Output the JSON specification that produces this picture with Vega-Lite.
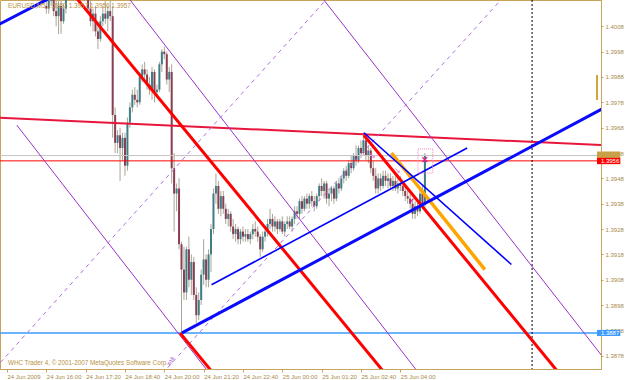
{
  "$schema": "https://vega.github.io/schema/vega-lite/v6.json",
  "width": 601,
  "height": 369,
  "autosize": {"type": "none"},
  "padding": {"left": 0, "top": 0, "right": 24, "bottom": 11},
  "background": "white",
  "config": {
    "view": {"stroke": "#c8a45a", "strokeWidth": 1},
    "font": "'Liberation Sans Narrow', 'Liberation Sans', sans-serif",
    "axis": {"grid": false}
  },
  "resolve": {"axis": {"x": "independent", "y": "independent"}},
  "datasets": {
    "one": [{"k": 1}],
    "candles": [
      {"i":16,"o":1.4016,"h":1.4022,"l":1.4013,"c":1.4015},
      {"i":17,"o":1.4015,"h":1.4022,"l":1.4013,"c":1.4018},
      {"i":18,"o":1.4018,"h":1.4025,"l":1.4016,"c":1.4022},
      {"i":19,"o":1.4022,"h":1.4026,"l":1.4012,"c":1.4014},
      {"i":20,"o":1.4014,"h":1.4019,"l":1.4008,"c":1.4012},
      {"i":21,"o":1.4012,"h":1.4018,"l":1.4005,"c":1.4016},
      {"i":22,"o":1.4016,"h":1.4020,"l":1.4005,"c":1.4010},
      {"i":23,"o":1.4010,"h":1.4017,"l":1.4009,"c":1.4015},
      {"i":24,"o":1.4015,"h":1.4022,"l":1.4013,"c":1.4020},
      {"i":25,"o":1.4020,"h":1.4028,"l":1.4019,"c":1.4026},
      {"i":26,"o":1.4026,"h":1.4032,"l":1.4024,"c":1.4030},
      {"i":27,"o":1.4030,"h":1.4036,"l":1.4027,"c":1.4033},
      {"i":28,"o":1.4033,"h":1.4036,"l":1.4026,"c":1.4028},
      {"i":29,"o":1.4028,"h":1.4032,"l":1.4024,"c":1.4030},
      {"i":30,"o":1.4030,"h":1.4034,"l":1.4025,"c":1.4027},
      {"i":31,"o":1.4027,"h":1.4030,"l":1.4021,"c":1.4024},
      {"i":32,"o":1.4024,"h":1.4028,"l":1.4019,"c":1.4021},
      {"i":33,"o":1.4021,"h":1.4024,"l":1.4013,"c":1.4015},
      {"i":34,"o":1.4015,"h":1.4019,"l":1.4008,"c":1.4010},
      {"i":35,"o":1.4010,"h":1.4015,"l":1.4006,"c":1.4013},
      {"i":36,"o":1.4013,"h":1.4016,"l":1.4004,"c":1.4006},
      {"i":37,"o":1.4006,"h":1.4010,"l":1.3999,"c":1.4003},
      {"i":38,"o":1.4003,"h":1.4012,"l":1.4002,"c":1.4010},
      {"i":39,"o":1.4010,"h":1.4016,"l":1.4008,"c":1.4013},
      {"i":40,"o":1.4013,"h":1.4018,"l":1.4009,"c":1.4011},
      {"i":41,"o":1.4011,"h":1.4016,"l":1.4006,"c":1.4014},
      {"i":42,"o":1.4014,"h":1.4018,"l":1.4010,"c":1.4012},
      {"i":43,"o":1.4012,"h":1.4016,"l":1.3964,"c":1.3973},
      {"i":44,"o":1.3973,"h":1.3976,"l":1.3958,"c":1.3962},
      {"i":45,"o":1.3962,"h":1.3967,"l":1.3958,"c":1.3965},
      {"i":46,"o":1.3965,"h":1.3968,"l":1.3947,"c":1.3960},
      {"i":47,"o":1.3960,"h":1.3966,"l":1.3955,"c":1.3964},
      {"i":48,"o":1.3964,"h":1.3966,"l":1.3949,"c":1.3953},
      {"i":49,"o":1.3953,"h":1.3972,"l":1.3951,"c":1.3970},
      {"i":50,"o":1.3970,"h":1.3978,"l":1.3968,"c":1.3976},
      {"i":51,"o":1.3976,"h":1.3983,"l":1.3974,"c":1.3981},
      {"i":52,"o":1.3981,"h":1.3984,"l":1.3977,"c":1.3979},
      {"i":53,"o":1.3979,"h":1.3983,"l":1.3976,"c":1.3978},
      {"i":54,"o":1.3978,"h":1.3990,"l":1.3977,"c":1.3988},
      {"i":55,"o":1.3988,"h":1.3993,"l":1.3986,"c":1.3991},
      {"i":56,"o":1.3991,"h":1.3994,"l":1.3987,"c":1.3989},
      {"i":57,"o":1.3989,"h":1.3991,"l":1.3983,"c":1.3985},
      {"i":58,"o":1.3985,"h":1.3988,"l":1.3981,"c":1.3983},
      {"i":59,"o":1.3983,"h":1.3992,"l":1.3979,"c":1.3990},
      {"i":60,"o":1.3990,"h":1.3991,"l":1.3978,"c":1.3982},
      {"i":61,"o":1.3982,"h":1.3985,"l":1.3980,"c":1.3983},
      {"i":62,"o":1.3983,"h":1.3994,"l":1.3982,"c":1.3993},
      {"i":63,"o":1.3993,"h":1.3999,"l":1.3990,"c":1.3998},
      {"i":64,"o":1.3998,"h":1.4000,"l":1.3995,"c":1.3997},
      {"i":65,"o":1.3997,"h":1.3998,"l":1.3985,"c":1.3987},
      {"i":66,"o":1.3987,"h":1.3992,"l":1.3982,"c":1.3990},
      {"i":67,"o":1.3990,"h":1.3993,"l":1.3946,"c":1.3952},
      {"i":68,"o":1.3952,"h":1.3958,"l":1.3927,"c":1.3942},
      {"i":69,"o":1.3942,"h":1.3946,"l":1.3935,"c":1.3944},
      {"i":70,"o":1.3944,"h":1.3948,"l":1.3920,"c":1.3922},
      {"i":71,"o":1.3922,"h":1.3923,"l":1.3887,"c":1.3912},
      {"i":72,"o":1.3912,"h":1.3921,"l":1.3900,"c":1.3903},
      {"i":73,"o":1.3903,"h":1.3921,"l":1.3900,"c":1.3920},
      {"i":74,"o":1.3920,"h":1.3925,"l":1.3905,"c":1.3908},
      {"i":75,"o":1.3908,"h":1.3918,"l":1.3902,"c":1.3915},
      {"i":76,"o":1.3915,"h":1.3917,"l":1.3900,"c":1.3902},
      {"i":77,"o":1.3902,"h":1.3905,"l":1.3891,"c":1.3894},
      {"i":78,"o":1.3894,"h":1.3903,"l":1.3892,"c":1.3900},
      {"i":79,"o":1.3900,"h":1.3912,"l":1.3898,"c":1.3910},
      {"i":80,"o":1.3910,"h":1.3924,"l":1.3906,"c":1.3916},
      {"i":81,"o":1.3916,"h":1.3918,"l":1.3905,"c":1.3908},
      {"i":82,"o":1.3908,"h":1.3920,"l":1.3905,"c":1.3918},
      {"i":83,"o":1.3918,"h":1.3930,"l":1.3911,"c":1.3928},
      {"i":84,"o":1.3928,"h":1.3944,"l":1.3926,"c":1.3942},
      {"i":85,"o":1.3942,"h":1.3950,"l":1.3938,"c":1.3945},
      {"i":86,"o":1.3945,"h":1.3947,"l":1.3934,"c":1.3936},
      {"i":87,"o":1.3936,"h":1.3943,"l":1.3933,"c":1.3941},
      {"i":88,"o":1.3941,"h":1.3943,"l":1.3934,"c":1.3936},
      {"i":89,"o":1.3936,"h":1.3938,"l":1.3930,"c":1.3932},
      {"i":90,"o":1.3932,"h":1.3936,"l":1.3929,"c":1.3934},
      {"i":91,"o":1.3934,"h":1.3935,"l":1.3927,"c":1.3929},
      {"i":92,"o":1.3929,"h":1.3932,"l":1.3924,"c":1.3926},
      {"i":93,"o":1.3926,"h":1.3930,"l":1.3923,"c":1.3928},
      {"i":94,"o":1.3928,"h":1.3929,"l":1.3922,"c":1.3924},
      {"i":95,"o":1.3924,"h":1.3928,"l":1.3922,"c":1.3927},
      {"i":96,"o":1.3927,"h":1.3929,"l":1.3923,"c":1.3925},
      {"i":97,"o":1.3925,"h":1.3928,"l":1.3923,"c":1.3926},
      {"i":98,"o":1.3926,"h":1.3928,"l":1.3923,"c":1.3924},
      {"i":99,"o":1.3924,"h":1.3927,"l":1.3922,"c":1.3926},
      {"i":100,"o":1.3926,"h":1.3930,"l":1.3924,"c":1.3928},
      {"i":101,"o":1.3928,"h":1.3931,"l":1.3925,"c":1.3927},
      {"i":102,"o":1.3927,"h":1.3929,"l":1.3923,"c":1.3925},
      {"i":103,"o":1.3925,"h":1.3926,"l":1.3917,"c":1.3920},
      {"i":104,"o":1.3920,"h":1.3927,"l":1.3919,"c":1.3925},
      {"i":105,"o":1.3925,"h":1.3928,"l":1.3923,"c":1.3927},
      {"i":106,"o":1.3927,"h":1.3932,"l":1.3925,"c":1.3930},
      {"i":107,"o":1.3930,"h":1.3936,"l":1.3928,"c":1.3932},
      {"i":108,"o":1.3932,"h":1.3934,"l":1.3927,"c":1.3929},
      {"i":109,"o":1.3929,"h":1.3933,"l":1.3927,"c":1.3931},
      {"i":110,"o":1.3931,"h":1.3932,"l":1.3926,"c":1.3928},
      {"i":111,"o":1.3928,"h":1.3932,"l":1.3927,"c":1.3931},
      {"i":112,"o":1.3931,"h":1.3933,"l":1.3926,"c":1.3927},
      {"i":113,"o":1.3927,"h":1.3931,"l":1.3925,"c":1.3930},
      {"i":114,"o":1.3930,"h":1.3933,"l":1.3928,"c":1.3931},
      {"i":115,"o":1.3931,"h":1.3933,"l":1.3928,"c":1.3929},
      {"i":116,"o":1.3929,"h":1.3933,"l":1.3927,"c":1.3932},
      {"i":117,"o":1.3932,"h":1.3937,"l":1.3930,"c":1.3935},
      {"i":118,"o":1.3935,"h":1.3937,"l":1.3932,"c":1.3934},
      {"i":119,"o":1.3934,"h":1.3940,"l":1.3932,"c":1.3939},
      {"i":120,"o":1.3939,"h":1.3941,"l":1.3934,"c":1.3936},
      {"i":121,"o":1.3936,"h":1.3941,"l":1.3935,"c":1.3940},
      {"i":122,"o":1.3940,"h":1.3942,"l":1.3936,"c":1.3938},
      {"i":123,"o":1.3938,"h":1.3942,"l":1.3936,"c":1.3941},
      {"i":124,"o":1.3941,"h":1.3943,"l":1.3937,"c":1.3939},
      {"i":125,"o":1.3939,"h":1.3941,"l":1.3935,"c":1.3937},
      {"i":126,"o":1.3937,"h":1.3942,"l":1.3936,"c":1.3941},
      {"i":127,"o":1.3941,"h":1.3946,"l":1.3939,"c":1.3945},
      {"i":128,"o":1.3945,"h":1.3948,"l":1.3941,"c":1.3943},
      {"i":129,"o":1.3943,"h":1.3947,"l":1.3940,"c":1.3946},
      {"i":130,"o":1.3946,"h":1.3947,"l":1.3938,"c":1.3940},
      {"i":131,"o":1.3940,"h":1.3944,"l":1.3937,"c":1.3942},
      {"i":132,"o":1.3942,"h":1.3945,"l":1.3939,"c":1.3944},
      {"i":133,"o":1.3944,"h":1.3945,"l":1.3938,"c":1.3940},
      {"i":134,"o":1.3940,"h":1.3947,"l":1.3939,"c":1.3946},
      {"i":135,"o":1.3946,"h":1.3948,"l":1.3942,"c":1.3944},
      {"i":136,"o":1.3944,"h":1.3949,"l":1.3943,"c":1.3948},
      {"i":137,"o":1.3948,"h":1.3952,"l":1.3946,"c":1.3951},
      {"i":138,"o":1.3951,"h":1.3953,"l":1.3947,"c":1.3949},
      {"i":139,"o":1.3949,"h":1.3955,"l":1.3948,"c":1.3954},
      {"i":140,"o":1.3954,"h":1.3957,"l":1.3950,"c":1.3952},
      {"i":141,"o":1.3952,"h":1.3958,"l":1.3951,"c":1.3957},
      {"i":142,"o":1.3957,"h":1.3961,"l":1.3953,"c":1.3955},
      {"i":143,"o":1.3955,"h":1.3961,"l":1.3954,"c":1.3960},
      {"i":144,"o":1.3960,"h":1.3963,"l":1.3956,"c":1.3958},
      {"i":145,"o":1.3958,"h":1.3966,"l":1.3957,"c":1.3963},
      {"i":146,"o":1.3963,"h":1.3964,"l":1.3955,"c":1.3957},
      {"i":147,"o":1.3957,"h":1.3961,"l":1.3954,"c":1.3959},
      {"i":148,"o":1.3959,"h":1.3960,"l":1.3950,"c":1.3952},
      {"i":149,"o":1.3952,"h":1.3955,"l":1.3947,"c":1.3949},
      {"i":150,"o":1.3949,"h":1.3952,"l":1.3942,"c":1.3944},
      {"i":151,"o":1.3944,"h":1.3950,"l":1.3942,"c":1.3948},
      {"i":152,"o":1.3948,"h":1.3950,"l":1.3943,"c":1.3945},
      {"i":153,"o":1.3945,"h":1.3951,"l":1.3944,"c":1.3949},
      {"i":154,"o":1.3949,"h":1.3951,"l":1.3945,"c":1.3947},
      {"i":155,"o":1.3947,"h":1.3950,"l":1.3944,"c":1.3948},
      {"i":156,"o":1.3948,"h":1.3950,"l":1.3944,"c":1.3945},
      {"i":157,"o":1.3945,"h":1.3949,"l":1.3943,"c":1.3947},
      {"i":158,"o":1.3947,"h":1.3949,"l":1.3943,"c":1.3944},
      {"i":159,"o":1.3944,"h":1.3948,"l":1.3942,"c":1.3946},
      {"i":160,"o":1.3946,"h":1.3949,"l":1.3943,"c":1.3945},
      {"i":161,"o":1.3945,"h":1.3947,"l":1.3941,"c":1.3943},
      {"i":162,"o":1.3943,"h":1.3946,"l":1.3939,"c":1.3941},
      {"i":163,"o":1.3941,"h":1.3944,"l":1.3938,"c":1.3940},
      {"i":164,"o":1.3940,"h":1.3942,"l":1.3936,"c":1.3938},
      {"i":165,"o":1.3938,"h":1.3940,"l":1.3932,"c":1.3934},
      {"i":166,"o":1.3934,"h":1.3939,"l":1.3932,"c":1.3937},
      {"i":167,"o":1.3937,"h":1.3939,"l":1.3933,"c":1.3935},
      {"i":168,"o":1.3935,"h":1.3944,"l":1.3934,"c":1.3942},
      {"i":169,"o":1.3942,"h":1.3945,"l":1.3936,"c":1.3938},
      {"i":170,"o":1.3938,"h":1.3958,"l":1.3936,"c":1.3957}
    ],
    "redLines": [
      {"id":"A","i":25,"p":1.4023},{"id":"A","i":157.2,"p":1.3867},
      {"id":"B","i":70.4,"p":1.3887},{"id":"B","i":84,"p":1.3871},
      {"id":"C","i":145.2,"p":1.3965},{"id":"C","i":227.2,"p":1.3868}
    ],
    "purpleLines": [
      {"id":"P1","i":47.2,"p":1.4022},{"id":"P1","i":169.2,"p":1.3869},
      {"id":"P2","i":126,"p":1.4022},{"id":"P2","i":245.2,"p":1.3874},
      {"id":"P4","i":4,"p":1.3969},{"id":"P4","i":84,"p":1.3869}
    ],
    "fibLines": [
      {"id":"D1","i":-4.8,"p":1.3873},{"id":"D1","i":131.2,"p":1.4020},
      {"id":"D2","i":63.2,"p":1.3871},{"id":"D2","i":202.4,"p":1.4020}
    ],
    "blueThick": [
      {"id":"B1","i":71.2,"p":1.3887},{"id":"B1","i":245.2,"p":1.3977},
      {"id":"B0","i":-4.8,"p":1.4008},{"id":"B0","i":17.2,"p":1.4019}
    ],
    "blueThin": [
      {"id":"B2","i":83.2,"p":1.3906},{"id":"B2","i":187.2,"p":1.3960},
      {"id":"B3","i":145.2,"p":1.3966},{"id":"B3","i":205.2,"p":1.3914}
    ],
    "orangeLine": [
      {"id":"O","i":156.4,"p":1.3958},{"id":"O","i":194.4,"p":1.3912}
    ],
    "crimsonLine": [
      {"id":"K","i":-5,"p":1.3972},{"id":"K","i":245,"p":1.3961}
    ]
  },
  "layer": [
    {
      "data": {"name": "candles"},
      "mark": {"type": "rule", "color": "#aaa597", "strokeWidth": 1, "clip": true},
      "encoding": {
        "x": {"field": "i", "type": "quantitative", "title": null,
          "scale": {"domain": [-0.8, 239.6], "nice": false, "zero": false},
          "axis": {"values": [0,16,32,48,64,80,96,112,128,144,160],
            "labelExpr": "datum.value == 0 ? '24 Jun 2009' : timeFormat(datetime(2009, 5, 24, 14, 40 + datum.value * 5), '%d %b %H:%M')",
            "labelAlign": "left", "labelBaseline": "top", "labelFontSize": 6, "labelColor": "#a88a48",
            "labelPadding": 1, "labelDx": 1, "tickSize": 3, "tickColor": "#c8a45a", "domainColor": "#c8a45a",
            "labelOverlap": false, "labelFlush": false, "labelBound": false, "grid": false, "zindex": 0}},
        "y": {"field": "l", "type": "quantitative", "title": null,
          "scale": {"domain": [1.387277, 1.401838], "nice": false, "zero": false},
          "axis": {"orient": "right", "values": [1.3878,1.3888,1.3898,1.3908,1.3918,1.3928,1.3938,1.3948,1.3958,1.3968,1.3978,1.3988,1.3998,1.4008],
            "format": ".4f", "labelFontSize": 6, "labelColor": "#a88a48", "labelPadding": 2, "tickSize": 2,
            "tickColor": "#c8a45a", "domainColor": "#c8a45a", "labelOverlap": false, "labelFlush": false, "labelBound": false, "grid": false, "zindex": 0}},
        "y2": {"field": "h"}
      }
    },
    {
      "data": {"name": "candles"},
      "mark": {"type": "bar", "width": 2, "clip": true},
      "encoding": {
        "x": {"field": "i", "type": "quantitative", "axis": null, "scale": {"domain": [-0.8, 239.6], "nice": false, "zero": false}},
        "y": {"field": "o", "type": "quantitative", "axis": null, "scale": {"domain": [1.387277, 1.401838], "nice": false, "zero": false}},
        "y2": {"field": "c"},
        "color": {"condition": {"test": "datum.c >= datum.o", "value": "#3f7d86"}, "value": "#8a3e52"}
      }
    },
    {
      "data": {"name": "one"},
      "mark": {"type": "rule", "color": "#c4c4c4", "strokeWidth": 1},
      "encoding": {"y": {"datum": 1.3957, "type": "quantitative", "axis": null, "scale": {"domain": [1.387277, 1.401838], "nice": false, "zero": false}}}
    },
    {
      "data": {"name": "one"},
      "mark": {"type": "rule", "color": "#ff0000", "strokeWidth": 1},
      "encoding": {"y": {"datum": 1.39549, "type": "quantitative", "axis": null, "scale": {"domain": [1.387277, 1.401838], "nice": false, "zero": false}}}
    },
    {
      "data": {"name": "one"},
      "mark": {"type": "rule", "color": "#3d9bff", "strokeWidth": 1.5},
      "encoding": {"y": {"datum": 1.3887, "type": "quantitative", "axis": null, "scale": {"domain": [1.387277, 1.401838], "nice": false, "zero": false}}}
    },
    {
      "data": {"name": "one"},
      "mark": {"type": "rule", "color": "#000000", "strokeWidth": 1, "strokeDash": [2, 2]},
      "encoding": {"x": {"datum": 213.6, "type": "quantitative", "axis": null, "scale": {"domain": [-0.8, 239.6], "nice": false, "zero": false}}}
    },
    {
      "data": {"name": "crimsonLine"},
      "mark": {"type": "line", "color": "#e8163c", "strokeWidth": 2, "clip": true},
      "encoding": {
        "x": {"field": "i", "type": "quantitative", "axis": null, "scale": {"domain": [-0.8, 239.6], "nice": false, "zero": false}},
        "y": {"field": "p", "type": "quantitative", "axis": null, "scale": {"domain": [1.387277, 1.401838], "nice": false, "zero": false}},
        "detail": {"field": "id"}
      }
    },
    {
      "data": {"name": "purpleLines"},
      "mark": {"type": "line", "color": "#9932cc", "strokeWidth": 1, "clip": true},
      "encoding": {
        "x": {"field": "i", "type": "quantitative", "axis": null, "scale": {"domain": [-0.8, 239.6], "nice": false, "zero": false}},
        "y": {"field": "p", "type": "quantitative", "axis": null, "scale": {"domain": [1.387277, 1.401838], "nice": false, "zero": false}},
        "detail": {"field": "id"}
      }
    },
    {
      "data": {"name": "fibLines"},
      "mark": {"type": "line", "color": "#b070e0", "strokeWidth": 1, "strokeDash": [4, 4], "clip": true},
      "encoding": {
        "x": {"field": "i", "type": "quantitative", "axis": null, "scale": {"domain": [-0.8, 239.6], "nice": false, "zero": false}},
        "y": {"field": "p", "type": "quantitative", "axis": null, "scale": {"domain": [1.387277, 1.401838], "nice": false, "zero": false}},
        "detail": {"field": "id"}
      }
    },
    {
      "data": {"name": "redLines"},
      "mark": {"type": "line", "color": "#ff0000", "strokeWidth": 3, "clip": true},
      "encoding": {
        "x": {"field": "i", "type": "quantitative", "axis": null, "scale": {"domain": [-0.8, 239.6], "nice": false, "zero": false}},
        "y": {"field": "p", "type": "quantitative", "axis": null, "scale": {"domain": [1.387277, 1.401838], "nice": false, "zero": false}},
        "detail": {"field": "id"}
      }
    },
    {
      "data": {"name": "orangeLine"},
      "mark": {"type": "line", "color": "#ffa500", "strokeWidth": 3.5, "clip": true},
      "encoding": {
        "x": {"field": "i", "type": "quantitative", "axis": null, "scale": {"domain": [-0.8, 239.6], "nice": false, "zero": false}},
        "y": {"field": "p", "type": "quantitative", "axis": null, "scale": {"domain": [1.387277, 1.401838], "nice": false, "zero": false}},
        "detail": {"field": "id"}
      }
    },
    {
      "data": {"name": "blueThin"},
      "mark": {"type": "line", "color": "#0000ff", "strokeWidth": 1.6, "clip": true},
      "encoding": {
        "x": {"field": "i", "type": "quantitative", "axis": null, "scale": {"domain": [-0.8, 239.6], "nice": false, "zero": false}},
        "y": {"field": "p", "type": "quantitative", "axis": null, "scale": {"domain": [1.387277, 1.401838], "nice": false, "zero": false}},
        "detail": {"field": "id"}
      }
    },
    {
      "data": {"name": "blueThick"},
      "mark": {"type": "line", "color": "#0a0aff", "strokeWidth": 3, "clip": true},
      "encoding": {
        "x": {"field": "i", "type": "quantitative", "axis": null, "scale": {"domain": [-0.8, 239.6], "nice": false, "zero": false}},
        "y": {"field": "p", "type": "quantitative", "axis": null, "scale": {"domain": [1.387277, 1.401838], "nice": false, "zero": false}},
        "detail": {"field": "id"}
      }
    },
    {
      "data": {"name": "one"},
      "mark": {"type": "rect", "fill": "#ffffff", "fillOpacity": 0, "stroke": "#ff80c0", "strokeWidth": 1, "strokeDash": [1, 1]},
      "encoding": {
        "x": {"datum": 167.2, "type": "quantitative", "axis": null, "scale": {"domain": [-0.8, 239.6], "nice": false, "zero": false}},
        "x2": {"datum": 173.2},
        "y": {"datum": 1.39596, "type": "quantitative", "axis": null, "scale": {"domain": [1.387277, 1.401838], "nice": false, "zero": false}},
        "y2": {"datum": 1.39501}
      }
    },
    {
      "data": {"name": "one"},
      "mark": {"type": "text", "text": "✕", "color": "#e0208f", "fontSize": 9, "align": "center", "baseline": "middle", "fontWeight": "bold"},
      "encoding": {
        "x": {"datum": 170.2, "type": "quantitative", "axis": null, "scale": {"domain": [-0.8, 239.6], "nice": false, "zero": false}},
        "y": {"datum": 1.39553, "type": "quantitative", "axis": null, "scale": {"domain": [1.387277, 1.401838], "nice": false, "zero": false}}
      }
    },
    {
      "data": {"name": "one"},
      "mark": {"type": "text", "text": "↘", "color": "#ff66cc", "fontSize": 8, "align": "center", "baseline": "middle"},
      "encoding": {
        "x": {"datum": 148.6, "type": "quantitative", "axis": null, "scale": {"domain": [-0.8, 239.6], "nice": false, "zero": false}},
        "y": {"datum": 1.3957, "type": "quantitative", "axis": null, "scale": {"domain": [1.387277, 1.401838], "nice": false, "zero": false}}
      }
    },
    {
      "data": {"name": "one"},
      "mark": {"type": "text", "text": "↘", "color": "#ff66cc", "fontSize": 8, "align": "center", "baseline": "middle"},
      "encoding": {
        "x": {"datum": 159, "type": "quantitative", "axis": null, "scale": {"domain": [-0.8, 239.6], "nice": false, "zero": false}},
        "y": {"datum": 1.3951, "type": "quantitative", "axis": null, "scale": {"domain": [1.387277, 1.401838], "nice": false, "zero": false}}
      }
    },
    {
      "data": {"name": "one"},
      "mark": {"type": "text", "text": "✔", "color": "#e0208f", "fontSize": 7, "align": "center", "baseline": "middle"},
      "encoding": {
        "x": {"datum": 164.6, "type": "quantitative", "axis": null, "scale": {"domain": [-0.8, 239.6], "nice": false, "zero": false}},
        "y": {"datum": 1.3939, "type": "quantitative", "axis": null, "scale": {"domain": [1.387277, 1.401838], "nice": false, "zero": false}}
      }
    },
    {
      "data": {"name": "one"},
      "mark": {"type": "text", "text": "618", "color": "#9932cc", "fontSize": 5, "angle": 300, "align": "center", "baseline": "middle"},
      "encoding": {
        "x": {"datum": 66.6, "type": "quantitative", "axis": null, "scale": {"domain": [-0.8, 239.6], "nice": false, "zero": false}},
        "y": {"datum": 1.3876, "type": "quantitative", "axis": null, "scale": {"domain": [1.387277, 1.401838], "nice": false, "zero": false}}
      }
    },
    {
      "data": {"name": "one"},
      "mark": {"type": "text", "text": "EURUSD,M5  1.3957 1.3957 1.3956 1.3957", "color": "#b8913f", "fontSize": 6.4, "align": "left", "baseline": "middle"},
      "encoding": {
        "x": {"datum": 0.4, "type": "quantitative", "axis": null, "scale": {"domain": [-0.8, 239.6], "nice": false, "zero": false}},
        "y": {"datum": 1.4016, "type": "quantitative", "axis": null, "scale": {"domain": [1.387277, 1.401838], "nice": false, "zero": false}}
      }
    },
    {
      "data": {"name": "one"},
      "mark": {"type": "text", "text": "WHC Trader 4, © 2001-2007 MetaQuotes Software Corp.", "color": "#b8913f", "fontSize": 6.3, "align": "left", "baseline": "middle"},
      "encoding": {
        "x": {"datum": 0.4, "type": "quantitative", "axis": null, "scale": {"domain": [-0.8, 239.6], "nice": false, "zero": false}},
        "y": {"datum": 1.38752, "type": "quantitative", "axis": null, "scale": {"domain": [1.387277, 1.401838], "nice": false, "zero": false}}
      }
    },
    {
      "data": {"name": "one"},
      "mark": {"type": "rect", "color": "#d4a23c"},
      "encoding": {
        "x": {"datum": 239.6, "type": "quantitative", "axis": null, "scale": {"domain": [-0.8, 239.6], "nice": false, "zero": false}},
        "x2": {"datum": 240.4},
        "y": {"datum": 1.39888, "type": "quantitative", "axis": null, "scale": {"domain": [1.387277, 1.401838], "nice": false, "zero": false}},
        "y2": {"datum": 1.39789}
      }
    },
    {
      "data": {"name": "one"},
      "mark": {"type": "rect", "color": "#c8a04a"},
      "encoding": {
        "x": {"datum": 240, "type": "quantitative", "axis": null, "scale": {"domain": [-0.8, 239.6], "nice": false, "zero": false}},
        "x2": {"datum": 249.5},
        "y": {"datum": 1.39586, "type": "quantitative", "axis": null, "scale": {"domain": [1.387277, 1.401838], "nice": false, "zero": false}},
        "y2": {"datum": 1.3956}
      }
    },
    {
      "data": {"name": "one"},
      "mark": {"type": "rect", "color": "#ff0000"},
      "encoding": {
        "x": {"datum": 240, "type": "quantitative", "axis": null, "scale": {"domain": [-0.8, 239.6], "nice": false, "zero": false}},
        "x2": {"datum": 249.5},
        "y": {"datum": 1.39561, "type": "quantitative", "axis": null, "scale": {"domain": [1.387277, 1.401838], "nice": false, "zero": false}},
        "y2": {"datum": 1.39536}
      }
    },
    {
      "data": {"name": "one"},
      "mark": {"type": "text", "text": "1.3956", "color": "#ffffff", "fontSize": 6, "align": "left", "baseline": "middle"},
      "encoding": {
        "x": {"datum": 241.6, "type": "quantitative", "axis": null, "scale": {"domain": [-0.8, 239.6], "nice": false, "zero": false}},
        "y": {"datum": 1.39549, "type": "quantitative", "axis": null, "scale": {"domain": [1.387277, 1.401838], "nice": false, "zero": false}}
      }
    },
    {
      "data": {"name": "one"},
      "mark": {"type": "rect", "color": "#3d9bff"},
      "encoding": {
        "x": {"datum": 240, "type": "quantitative", "axis": null, "scale": {"domain": [-0.8, 239.6], "nice": false, "zero": false}},
        "x2": {"datum": 249.5},
        "y": {"datum": 1.38882, "type": "quantitative", "axis": null, "scale": {"domain": [1.387277, 1.401838], "nice": false, "zero": false}},
        "y2": {"datum": 1.38858}
      }
    },
    {
      "data": {"name": "one"},
      "mark": {"type": "text", "text": "1.3887", "color": "#ffffff", "fontSize": 6, "align": "left", "baseline": "middle"},
      "encoding": {
        "x": {"datum": 241.6, "type": "quantitative", "axis": null, "scale": {"domain": [-0.8, 239.6], "nice": false, "zero": false}},
        "y": {"datum": 1.3887, "type": "quantitative", "axis": null, "scale": {"domain": [1.387277, 1.401838], "nice": false, "zero": false}}
      }
    }
  ]
}
